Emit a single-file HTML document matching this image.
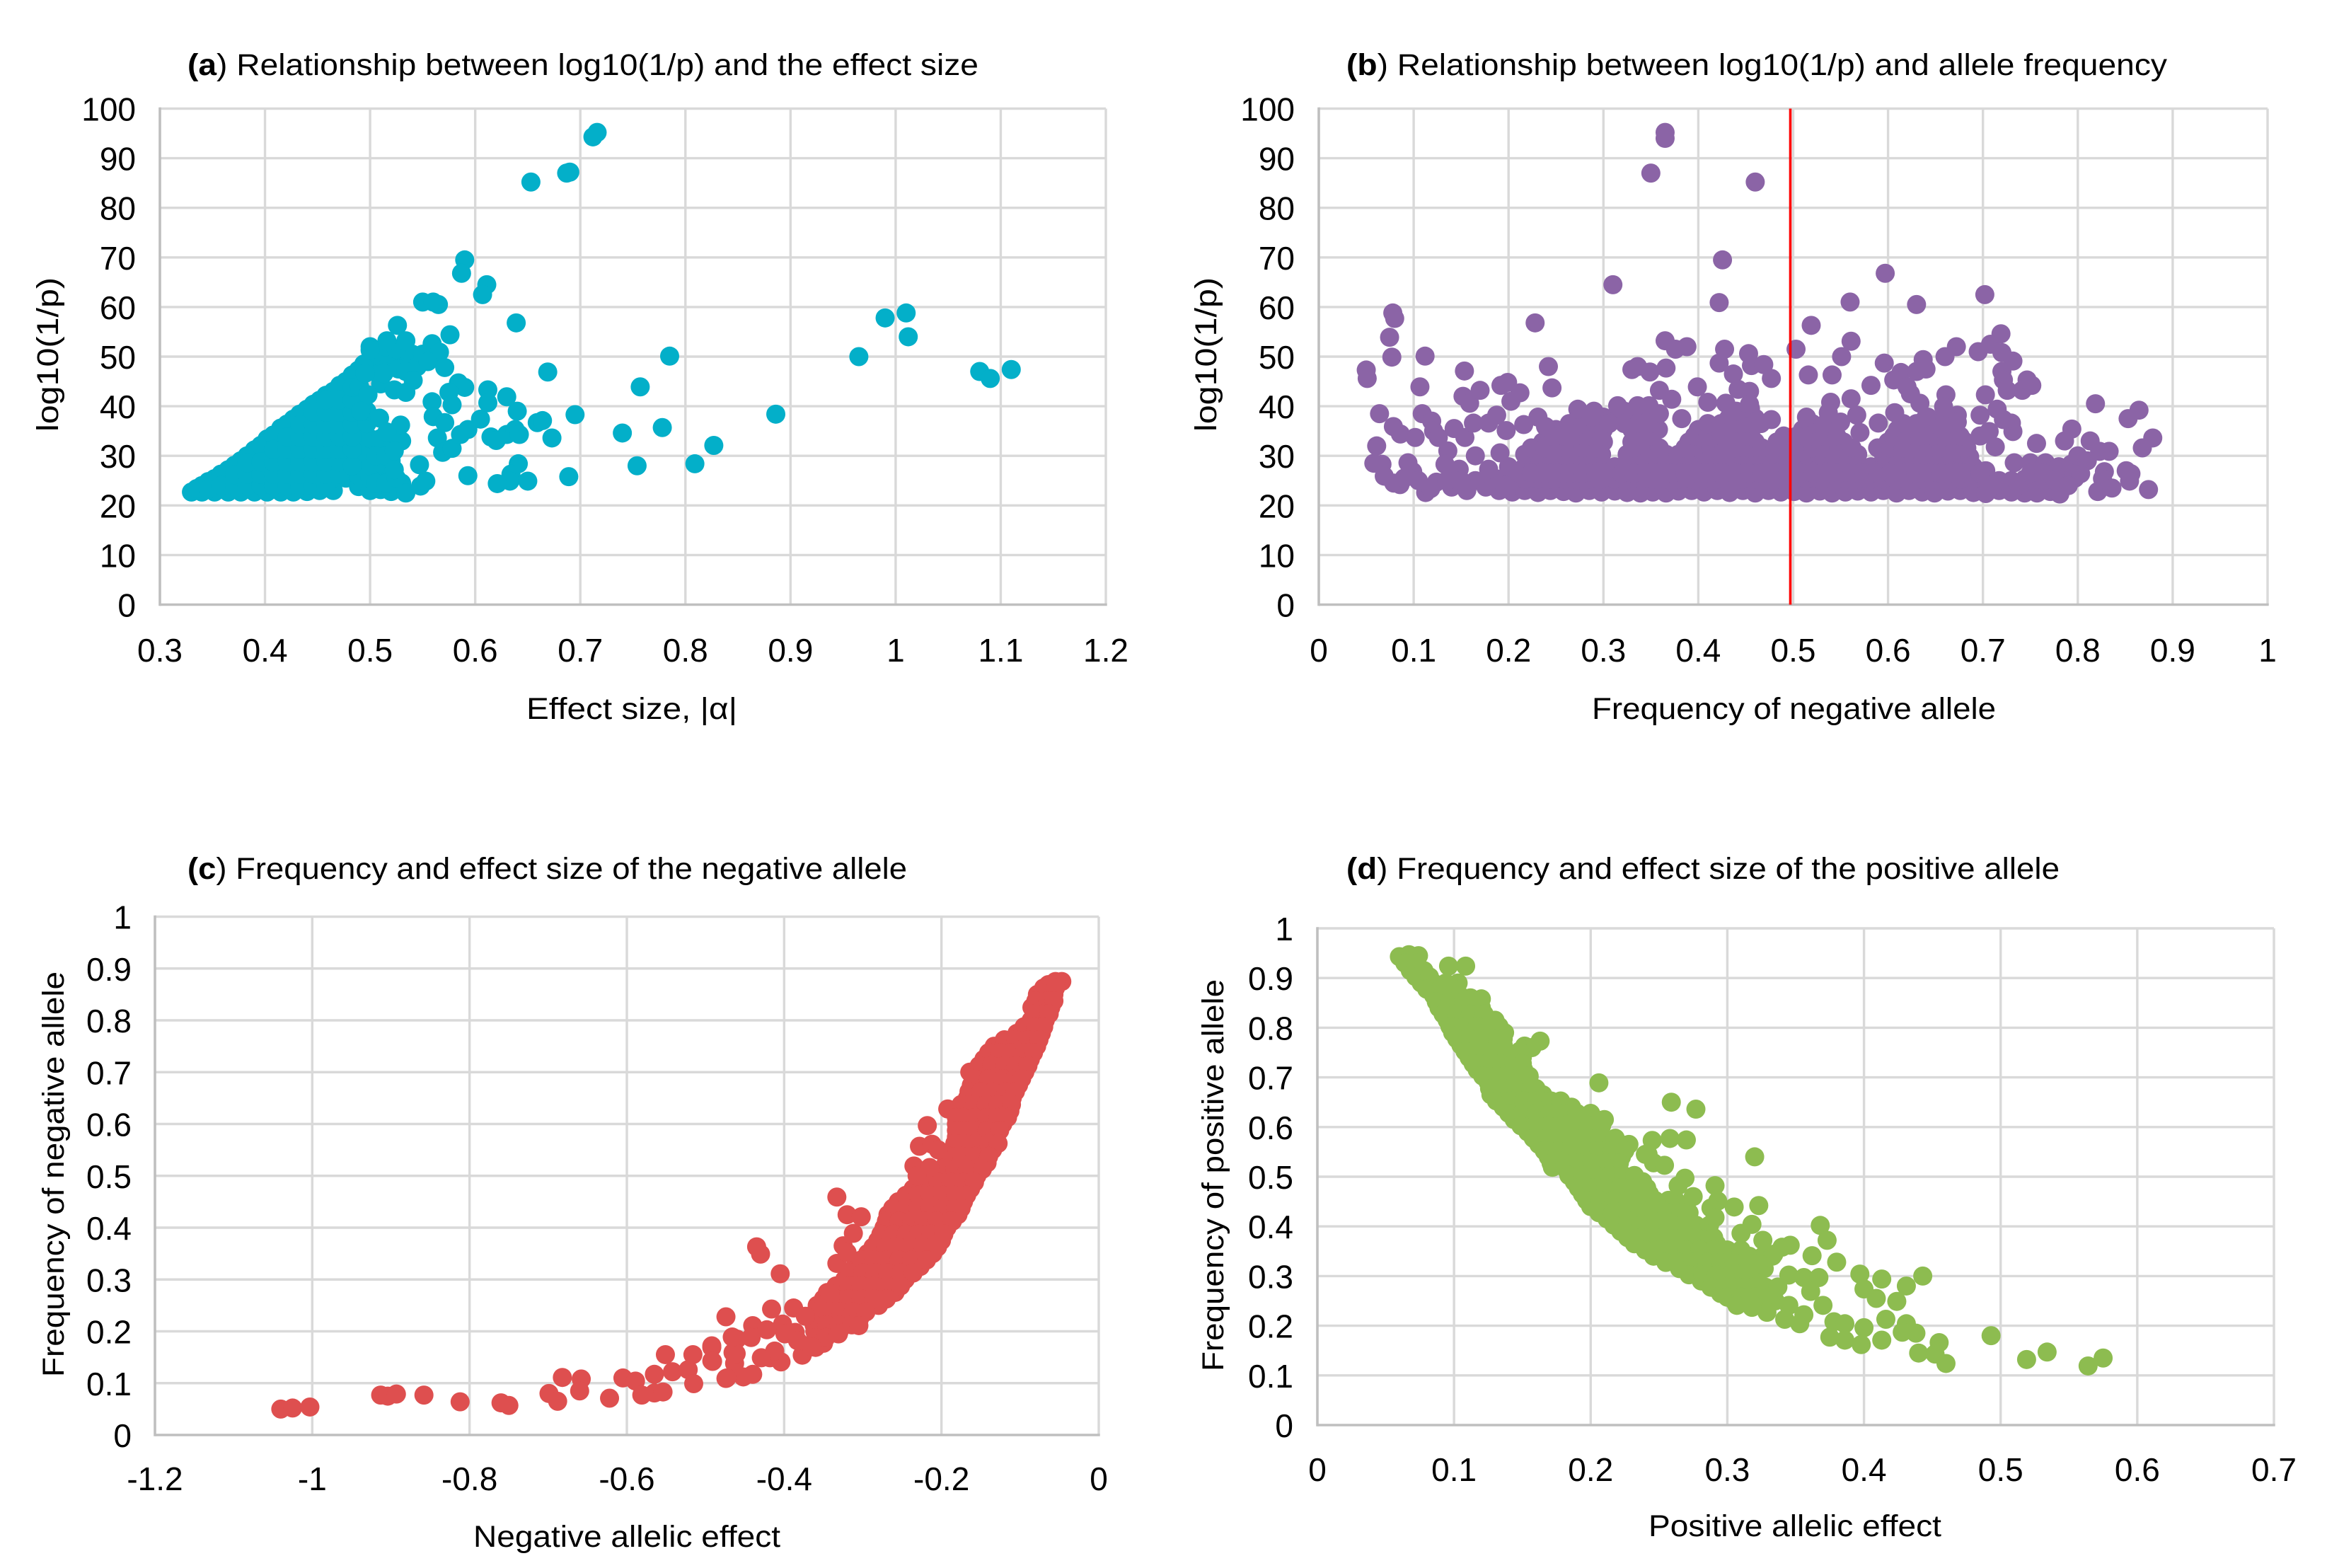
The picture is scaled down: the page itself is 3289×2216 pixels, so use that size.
<!DOCTYPE html>
<html lang="en">
<head>
<meta charset="utf-8">
<title>Allele effect size and frequency scatter charts</title>
<style>
html,body{margin:0;padding:0;background:#fff}
svg{display:block}
text{font-family:"Liberation Sans",sans-serif;fill:#000}
.tick{font-size:46px}
.title{font-size:43px}
.axis-title{font-size:43px}
</style>
</head>
<body>
<svg id="figure" xmlns="http://www.w3.org/2000/svg" width="3289" height="2216" viewBox="0 0 3289 2216">
<rect width="3289" height="2216" fill="#fff"/>
<text class="title" x="265" y="106" textLength="1118" lengthAdjust="spacingAndGlyphs"><tspan font-weight="700">(a</tspan>) Relationship between log10(1/p) and the effect size</text>
<text class="title" x="1903" y="106" textLength="1160" lengthAdjust="spacingAndGlyphs"><tspan font-weight="700">(b</tspan>) Relationship between log10(1/p) and allele frequency</text>
<text class="title" x="265" y="1242" textLength="1017" lengthAdjust="spacingAndGlyphs"><tspan font-weight="700">(c</tspan>) Frequency and effect size of the negative allele</text>
<text class="title" x="1903" y="1242" textLength="1008" lengthAdjust="spacingAndGlyphs"><tspan font-weight="700">(d</tspan>) Frequency and effect size of the positive allele</text>
<text class="axis-title" x="744" y="1016" textLength="298" lengthAdjust="spacingAndGlyphs">Effect size, |α|</text>
<text class="axis-title" x="2250" y="1016" textLength="571" lengthAdjust="spacingAndGlyphs">Frequency of negative allele</text>
<text class="axis-title" x="669" y="2186" textLength="434" lengthAdjust="spacingAndGlyphs">Negative allelic effect</text>
<text class="axis-title" x="2330" y="2171" textLength="414" lengthAdjust="spacingAndGlyphs">Positive allelic effect</text>
<text class="axis-title" transform="translate(82,610) rotate(-90)" textLength="218" lengthAdjust="spacingAndGlyphs">log10(1/p)</text>
<text class="axis-title" transform="translate(1719,610) rotate(-90)" textLength="218" lengthAdjust="spacingAndGlyphs">log10(1/p)</text>
<text class="axis-title" transform="translate(90,1946) rotate(-90)" textLength="573" lengthAdjust="spacingAndGlyphs">Frequency of negative allele</text>
<text class="axis-title" transform="translate(1729,1938) rotate(-90)" textLength="554" lengthAdjust="spacingAndGlyphs">Frequency of positive allele</text>
</svg>
<script>
const aXTicks=["0.3","0.4","0.5","0.6","0.7","0.8","0.9","1","1.1","1.2"];
const bXTicks=["0","0.1","0.2","0.3","0.4","0.5","0.6","0.7","0.8","0.9","1"];
const cXTicks=["-1.2","-1","-0.8","-0.6","-0.4","-0.2","0"];
const dXTicks=["0","0.1","0.2","0.3","0.4","0.5","0.6","0.7"];
const logPTicks=["0","10","20","30","40","50","60","70","80","90","100"];
const freqTicks=["0","0.1","0.2","0.3","0.4","0.5","0.6","0.7","0.8","0.9","1"];
const referenceFrequency=[0.497];

const panelACore=[[.33,22.7],[.34,22.7],[.34,24],[.352,22.7],[.352,25.4],[.365,22.7],[.365,25],[.365,27.2],[.377,22.7],[.377,25],[.377,27.5],[.377,29],
[.39,22.7],[.39,25],[.39,27.5],[.39,30],[.39,31.2],[.402,22.7],[.402,25],[.402,27.5],[.402,30],[.402,32.5],[.402,33.4],
[.415,22.7],[.415,25],[.415,27.5],[.415,30],[.415,32.5],[.415,35],[.415,35.6],[.427,22.7],[.427,25],[.427,27.5],[.427,30],[.427,32.5],[.427,35],[.427,37.4],
[.44,22.8],[.44,25],[.44,27.5],[.44,30],[.44,32.5],[.44,35],[.44,37.5],[.44,39.4],[.452,23],[.452,25.5],[.452,28],[.452,30.5],[.452,33],[.452,35.5],[.452,38],[.452,40],[.452,41.2],
[.465,23],[.465,25.5],[.465,28],[.465,30.5],[.465,33],[.465,35.5],[.465,38],[.465,40.5],[.465,43],[.477,25.5],[.477,28],[.477,30.5],[.477,33],[.477,35.5],[.477,38],[.477,40.5],[.477,43],[.477,45],
[.489,23.8],[.489,26],[.489,30.5],[.489,33],[.489,35.5],[.489,38],[.489,40.5],[.489,43],[.489,45.5],[.489,47.3],[.5,23],[.5,25.5],[.5,28],[.5,31],[.5,33.5],[.5,47],[.5,49.5],[.5,52],
[.51,23.2],[.51,26],[.51,28.5],[.51,31],[.51,33.5],[.51,47],[.51,50],[.52,22.8],[.52,26],[.52,29],[.52,31.5],[.52,33.5],[.52,48],[.52,50.5]];
const panelAEdge=[[.335,23.4],[.346,24.8],[.358,26.3],[.371,28.1],[.383,30],[.396,32.1],[.408,34.2],[.421,36.4],[.433,38.4],[.446,40.4],[.458,42.2],[.471,44.2],[.483,46.3],[.494,48.5],[.505,50.8],
[.346,23.2],[.358,24],[.371,24],[.371,26.2],[.383,24],[.383,26.3],[.383,28.6],[.396,24],[.396,26.3],[.396,28.8],[.408,24],[.408,26.3],[.408,28.8],[.408,31.3],[.421,24],[.421,26.3],[.421,28.8],[.421,31.3],[.421,33.8],
[.433,24],[.433,26.3],[.433,28.8],[.433,31.3],[.433,33.8],[.433,36.3],[.446,24],[.446,26.3],[.446,28.8],[.446,31.3],[.446,33.8],[.446,36.3],[.446,38.8],[.458,24],[.458,26.3],[.458,28.8],[.458,31.3],[.458,33.8],[.458,36.3],[.458,38.8],[.458,41.3],
[.471,26.3],[.471,28.8],[.471,31.3],[.471,33.8],[.471,36.3],[.471,38.8],[.471,41.3],[.483,28],[.483,31.3],[.483,33.8],[.483,36.3],[.483,38.8],[.483,41.3],[.483,43.8],
[.505,24.5],[.515,24.5],[.53,24.5],[.505,30],[.515,30],[.525,25.5],[.497,36.5],[.497,39],[.51,44.5],[.53,50],[.54,50.5],[.545,48],[.55,50.5],[.56,50],[.527,47.5],[.515,52],[.525,51.5],[.49,44],[.53,33]];
const panelATail=[[.716,95.2],[.712,94.3],[.69,87.2],[.687,87],[.653,85.2],[.59,69.5],[.587,66.8],[.611,64.5],[.607,62.5],[.55,61],[.56,61],[.565,60.5],[.639,56.8],[.526,56.3],[.576,54.4],
[.516,53.2],[.534,53.2],[.5,51.3],[.559,52.6],[.566,50.9],[.555,49],[.571,47.8],[.534,47],[.541,45.2],[.523,43.3],[.534,42.8],[.513,46.6],[.495,46.6],[.498,42.3],[.491,39],[.509,37.6],[.529,36.2],[.516,34.8],[.523,31],[.523,27.2],[.534,22.5],[.548,23.9],[.553,24.9],[.547,28.2],
[.584,44.7],[.59,43.8],[.575,42.8],[.578,40.3],[.559,40.9],[.56,37.9],[.571,36.7],[.564,33.6],[.569,30.7],[.578,31.5],[.605,37.4],[.593,35.3],[.586,34.3],[.612,43.3],[.612,40.7],[.63,41.9],[.64,39],[.659,36.7],[.664,37.1],[.673,33.6],[.615,33.8],[.62,33.1],[.63,34.3],[.638,35.3],[.642,34.3],[.641,28.4],[.634,26.3],[.633,24.9],[.621,24.4],[.65,24.9],[.593,26],[.689,25.8],[.669,46.9],[.695,38.3],[.74,34.6],[.778,35.7],[.827,32.1],[.809,28.4],[.754,28],[.757,43.9],[.785,50.1],[.886,38.4],[.965,50],[.99,57.8],[1.01,58.8],[1.012,54],[1.08,47],[1.09,45.6],[1.11,47.4]];

const panelBRowLow=[[.19,23],[.204,22.7],[.217,23],[.231,22.6],[.244,23],[.258,22.8],[.271,22.5],[.285,23],[.298,22.7],[.312,22.9],[.325,22.6],[.339,22.5],[.352,22.7],[.366,22.5],[.379,22.9],[.393,23],[.406,22.7],[.42,23],[.433,22.6],[.447,23],[.46,22.5],[.474,23],[.487,22.7],[.501,22.8],[.514,22.5],[.528,22.9],[.541,22.5],[.555,22.7],[.568,22.9],[.582,22.7],[.595,23],[.609,22.5],[.622,23],[.636,22.7],[.649,22.5],[.663,22.9],[.676,23],[.69,22.6],[.703,22.4],[.717,23],[.73,22.7],[.744,22.5],[.757,22.5],[.771,22.8],[.781,22.3]];
const panelBRow25=[[.19,25.3],[.204,25.3],[.217,25.3],[.231,25.3],[.244,25.3],[.258,25.3],[.271,25.3],[.285,25.3],[.298,25.3],[.312,25.3],[.325,25.3],[.339,25.3],[.352,25.3],[.366,25.3],[.379,25.3],[.393,25.3],[.406,25.3],[.42,25.3],[.433,25.3],[.447,25.3],[.46,25.3],[.474,25.3],[.487,25.3],[.501,25.3],[.514,25.3],[.528,25.3],[.541,25.3],[.555,25.3],[.568,25.3],[.582,25.3],[.595,25.3],[.609,25.3],[.622,25.3],[.636,25.3],[.649,25.3],[.663,25.3],[.676,25.3],[.69,25.3],[.703,25.3],[.717,25],[.73,25],[.744,25.3],[.757,25.3],[.771,25.3],[.784,25.3],[.797,25.5],[.803,26.4]];
const panelBRow28=[[.2,27.8],[.217,27.8],[.231,27.8],[.244,27.8],[.258,27.8],[.271,27.8],[.285,27.8],[.298,27.8],[.312,27.8],[.325,27.8],[.339,27.8],[.352,27.8],[.366,27.8],[.379,27.8],[.393,27.8],[.406,27.8],[.42,27.8],[.433,27.8],[.447,27.8],[.46,27.8],[.474,27.8],[.487,27.8],[.501,27.8],[.514,27.8],[.528,27.8],[.541,27.8],[.555,27.8],[.568,27.8],[.582,27.8],[.595,27.8],[.609,27.8],[.622,27.8],[.636,27.8],[.649,27.8],[.663,27.8],[.676,27.8],[.69,27.8],[.703,27],[.733,28.6],[.75,28.6],[.766,28.6],[.78,27.8],[.793,28.3]];
const panelBRow30=[[.217,30.3],[.231,30.3],[.244,30.3],[.258,30.3],[.271,30.3],[.285,30.3],[.298,30.3],[.325,30.3],[.339,30.3],[.352,30.3],[.366,30.3],[.379,30.3],[.393,30.3],[.406,30.3],[.42,30.3],[.433,30.3],[.447,30.3],[.46,30.3],[.474,30.3],[.487,30.3],[.501,30.3],[.514,30.3],[.528,30.3],[.541,30.3],[.555,30.3],[.568,30.3],[.595,30.3],[.609,30.3],[.622,30.3],[.636,30.3],[.649,30.3],[.663,30.3],[.676,30.3],[.686,29.8]];
const panelBRow33=[[.236,32.8],[.25,32.8],[.264,32.8],[.278,32.8],[.292,32.8],[.3,32.8],[.33,32.8],[.344,32.8],[.39,32.8],[.404,32.8],[.418,32.8],[.432,32.8],[.446,32.8],[.46,32.8],[.483,32.8],[.497,32.8],[.511,32.8],[.525,32.8],[.539,32.8],[.553,32.8],[.6,32.8],[.614,32.8],[.628,32.8],[.642,32.8],[.656,32.8],[.67,32.8],[.68,33]];
const panelBRow35=[[.25,35.3],[.264,35.3],[.278,35.3],[.292,35.3],[.3,35.3],[.33,35.3],[.344,35.3],[.358,35.3],[.4,35.3],[.414,35.3],[.428,35.3],[.442,35.3],[.456,35.3],[.51,35.3],[.524,35.3],[.538,35.3],[.61,35.3],[.624,35.3],[.638,35.3],[.652,35.3],[.666,35.3]];
const panelBRow38=[[.285,37.6],[.3,37.8],[.316,37.8],[.33,37.6],[.344,37.8],[.432,37.6],[.446,37.8],[.46,37.6],[.642,37.8],[.656,37.4]];
const panelBFill=[[.197,24],[.211,26.5],[.224,26.5],[.238,26.5],[.251,26.5],[.265,26.5],[.278,26.5],[.292,26.5],[.305,26.5],[.319,26.5],[.332,26.5],[.346,26.5],[.359,26.5],[.373,26.5],[.386,26.5],[.4,26.5],[.413,26.5],[.427,26.5],[.44,26.5],[.454,26.5],[.467,26.5],[.481,26.5],[.494,26.5],[.508,26.5],[.521,26.5],[.535,26.5],[.548,26.5],[.562,26.5],[.575,26.5],[.589,26.5],[.602,26.5],[.616,26.5],[.629,26.5],[.643,26.5],[.656,26.5],[.67,26.5],[.683,26.5],[.697,26.5],[.71,24],[.737,24],[.75,26.5],[.764,26.5],[.777,25],[.79,24],
[.224,31.6],[.238,31.6],[.251,31.6],[.265,31.6],[.278,31.6],[.292,31.6],[.332,31.6],[.346,31.6],[.359,31.6],[.386,31.6],[.4,31.6],[.413,31.6],[.427,31.6],[.44,31.6],[.454,31.6],[.467,31.6],[.481,31.6],[.494,31.6],[.508,31.6],[.521,31.6],[.535,31.6],[.548,31.6],[.562,31.6],[.589,31.6],[.602,31.6],[.616,31.6],[.629,31.6],[.643,31.6],[.656,31.6],[.67,31.6],[.683,31.6],
[.244,34],[.258,34],[.271,34],[.285,34],[.298,34],[.336,34],[.35,34],[.396,34],[.41,34],[.424,34],[.438,34],[.452,34],[.49,34],[.504,34],[.518,34],[.532,34],[.546,34],[.606,34],[.62,34],[.634,34],[.648,34],[.662,34],[.676,34],
[.264,36.5],[.278,36.5],[.292,36.5],[.306,36.5],[.322,36.5],[.336,36.5],[.35,36.5],[.41,36.5],[.424,36.5],[.438,36.5],[.452,36.5],[.466,36.5],[.52,36.5],[.534,36.5],[.616,36.5],[.63,36.5],[.648,36.5],[.664,36.5],[.29,39],[.322,39],[.34,39],[.44,39],[.455,39.5]];
const panelBTail=[[.365,95.2],[.365,94],[.35,87],[.46,85.2],[.4255,69.5],[.597,66.8],[.31,64.5],[.422,60.9],[.56,61],[.63,60.5],[.702,62.5],[.078,58.8],[.08,57.7],[.228,56.8],[.519,56.3],[.0746,53.9],[.077,49.9],[.05,47.3],[.051,45.6],[.112,50.1],[.1066,43.9],[.1535,47.1],[.152,42],[.159,40.6],[.17,43.2],[.192,44.2],[.199,44.8],[.212,42.7],[.2025,41],[.242,48],[.2458,43.7],
[.064,38.5],[.061,32],[.058,28.5],[.0666,28.3],[.094,28.6],[.0786,35.9],[.086,34.4],[.1016,33.7],[.109,38.5],[.119,37],[.121,35],[.126,33.7],[.1426,35.5],[.154,33.7],[.163,36.6],[.179,36.6],[.1875,38.2],[.136,31],[.133,28.3],[.165,30],[.191,30.6],[.1975,35.1],[.216,36.3],[.231,37.8],[.239,35.9],
[.273,39.4],[.2875,37.8],[.315,40.1],[.336,40.1],[.348,40.1],[.359,38.5],[.3825,37.5],[.336,48],[.33,47.4],[.349,46.9],[.366,47.7],[.365,53.2],[.376,51.5],[.388,52],[.359,43.2],[.372,41.4],[.399,43.9],[.41,40.8],[.4277,51.5],[.422,48.7],[.437,46.5],[.453,50.6],[.456,48.2],[.469,48.4],[.477,45.6],[.442,43.4],[.454,43],[.454,40.4],[.429,40.6],[.477,37.3],[.503,51.5],
[.1126,22.6],[.118,23.4],[.14,23.7],[.156,23],[.176,23.7],[.079,24.5],[.0856,24.2],[.069,25.9],[.099,26.8],[.124,24.7],[.148,27.3],[.179,27.3],[.165,25],[.09,25.5],[.105,25],[.135,25],[.15,25],
[.561,53.1],[.551,50],[.516,46.3],[.541,46.3],[.582,44.2],[.596,48.7],[.6136,46.8],[.606,45.3],[.637,49.4],[.64,47.5],[.63,47],[.66,50],[.672,52],[.695,51],[.708,52.5],[.719,54.6],[.72,50.8],[.7316,49.1],[.72,47],[.7216,45.3],[.7256,43.2],[.7415,43.2],[.7465,45.3],[.7515,44.2],[.661,42.3],[.6585,39.9],[.7026,42.3],[.697,38.2],[.715,39.4],[.673,38.2],[.673,36.8],[.73,36.6],[.7316,34.9],[.7216,37.3],
[.607,38.7],[.5897,36.6],[.5704,34.7],[.5395,40.8],[.537,38.7],[.561,41.5],[.567,38.2],[.514,37.8],[.55,36.8],[.6236,42.5],[.6336,40.6],[.64,37.8],[.62,43.9],[.697,34],[.7066,34.9],[.713,31.8],[.7565,32.5],[.7937,35.4],[.786,33],[.813,33],[.833,30.9],[.823,30.9],[.8186,40.5],[.853,37.5],[.8645,39.2],[.879,33.6],[.868,31.6],[.828,26.8],[.826,25.4],[.821,22.8],[.836,23.5],[.851,27],[.856,26.4],[.8545,24.9],[.8745,23.2],[.8,30],[.81,29]];

const panelCBand=[[-.047,.875],[-.055,.875],[-.064,.869],[-.078,.85],[-.057,.85],[-.085,.825],[-.07,.825],[-.061,.825],[-.086,.8],[-.075,.8],[-.068,.8],[-.104,.775],[-.09,.775],[-.073,.775],[-.133,.75],[-.115,.75],[-.1,.75],[-.079,.75],
[-.146,.725],[-.13,.725],[-.115,.725],[-.1,.725],[-.087,.725],[-.164,.7],[-.159,.7],[-.143,.7],[-.127,.7],[-.111,.7],[-.094,.7],[-.162,.675],[-.146,.675],[-.13,.675],[-.115,.675],[-.102,.675],[-.167,.65],[-.152,.65],[-.137,.65],[-.122,.65],[-.11,.65],
[-.192,.629],[-.181,.625],[-.165,.625],[-.15,.625],[-.135,.625],[-.113,.625],[-.181,.6],[-.165,.6],[-.15,.6],[-.135,.6],[-.122,.6],[-.181,.575],[-.165,.575],[-.15,.575],[-.131,.575],[-.186,.55],[-.17,.55],[-.155,.55],[-.135,.55],[-.194,.525],[-.178,.525],[-.162,.525],[-.142,.525],
[-.204,.5],[-.188,.5],[-.172,.5],[-.155,.5],[-.236,.475],[-.22,.475],[-.204,.475],[-.188,.475],[-.172,.475],[-.163,.475],[-.255,.45],[-.24,.45],[-.224,.45],[-.208,.45],[-.192,.45],[-.172,.45],[-.268,.425],[-.252,.425],[-.236,.425],[-.22,.425],[-.204,.425],[-.188,.425],[-.179,.425],
[-.273,.4],[-.257,.4],[-.241,.4],[-.225,.4],[-.209,.4],[-.193,.4],[-.281,.375],[-.265,.375],[-.249,.375],[-.233,.375],[-.217,.375],[-.2,.375],[-.294,.35],[-.278,.35],[-.262,.35],[-.246,.35],[-.23,.35],[-.211,.35],[-.31,.325],[-.294,.325],[-.278,.325],[-.262,.325],[-.246,.325],[-.227,.325],
[-.323,.3],[-.307,.3],[-.291,.3],[-.275,.3],[-.259,.3],[-.246,.3],[-.345,.275],[-.329,.275],[-.313,.275],[-.297,.275],[-.281,.275],[-.259,.275],[-.358,.25],[-.342,.25],[-.326,.25],[-.31,.25],[-.294,.25],[-.28,.25],[-.363,.225],[-.347,.225],[-.331,.225],[-.315,.225],[-.304,.225],[-.361,.2],[-.345,.2],[-.33,.2],[-.377,.154],[-.36,.169],[-.35,.177]];
const panelCFill=[[-.07,.8625],[-.055,.8625],[-.08,.8375],[-.065,.8375],[-.057,.8375],[-.082,.8125],[-.07,.8125],[-.063,.8125],[-.095,.7875],[-.08,.7875],[-.07,.7875],[-.12,.7625],[-.105,.7625],[-.09,.7625],[-.076,.7625],[-.14,.7375],[-.125,.7375],[-.11,.7375],[-.095,.7375],[-.083,.7375],
[-.152,.7125],[-.136,.7125],[-.12,.7125],[-.105,.7125],[-.09,.7125],[-.158,.6875],[-.14,.6875],[-.122,.6875],[-.107,.6875],[-.098,.6875],[-.165,.6625],[-.15,.6625],[-.135,.6625],[-.118,.6625],[-.106,.6625],[-.175,.6375],[-.158,.6375],[-.143,.6375],[-.128,.6375],[-.111,.6375],
[-.181,.6125],[-.172,.6125],[-.157,.6125],[-.142,.6125],[-.128,.6125],[-.116,.6125],[-.181,.5875],[-.172,.5875],[-.157,.5875],[-.142,.5875],[-.126,.5875],[-.183,.5625],[-.172,.5625],[-.157,.5625],[-.14,.5625],[-.128,.5625],[-.19,.5375],[-.174,.5375],[-.158,.5375],[-.14,.5375],[-.199,.5125],[-.183,.5125],[-.167,.5125],[-.148,.5125],
[-.22,.4875],[-.204,.4875],[-.188,.4875],[-.172,.4875],[-.158,.4875],[-.245,.4625],[-.23,.4625],[-.214,.4625],[-.198,.4625],[-.182,.4625],[-.168,.4625],[-.262,.4375],[-.246,.4375],[-.23,.4375],[-.214,.4375],[-.198,.4375],[-.182,.4375],[-.175,.4375],[-.27,.4125],[-.254,.4125],[-.238,.4125],[-.222,.4125],[-.206,.4125],[-.19,.4125],[-.186,.4125],
[-.277,.3875],[-.261,.3875],[-.245,.3875],[-.229,.3875],[-.213,.3875],[-.197,.3875],[-.287,.3625],[-.271,.3625],[-.255,.3625],[-.239,.3625],[-.223,.3625],[-.205,.3625],[-.302,.3375],[-.286,.3375],[-.27,.3375],[-.254,.3375],[-.238,.3375],[-.219,.3375],[-.316,.3125],[-.3,.3125],[-.284,.3125],[-.268,.3125],[-.252,.3125],[-.236,.3125],
[-.334,.2875],[-.318,.2875],[-.302,.2875],[-.286,.2875],[-.27,.2875],[-.252,.2875],[-.35,.2625],[-.334,.2625],[-.318,.2625],[-.302,.2625],[-.286,.2625],[-.27,.2625],[-.36,.2375],[-.344,.2375],[-.328,.2375],[-.312,.2375],[-.296,.2375],[-.362,.2125],[-.346,.2125],[-.33,.2125],[-.314,.2125],[-.305,.211],[-.36,.1875],[-.347,.188],[-.331,.195],[-.365,.17]];
const panelCTail=[[-.218,.597],[-.228,.557],[-.212,.561],[-.204,.55],[-.235,.519],[-.215,.516],[-.231,.5],[-.333,.459],[-.32,.425],[-.302,.421],[-.312,.389],[-.325,.365],[-.333,.331],[-.32,.352],[-.435,.363],[-.43,.349],[-.405,.311],[-.342,.273],[-.388,.245],[-.416,.243],[-.373,.229],[-.474,.228],
[-.44,.211],[-.402,.214],[-.422,.203],[-.386,.198],[-.46,.185],[-.442,.188],[-.399,.195],[-.383,.182],[-.492,.169],[-.492,.143],[-.465,.159],[-.463,.138],[-.474,.109],[-.452,.112],[-.44,.117],[-.418,.149],[-.404,.141],[-.412,.162],[-.429,.149],
[-1.04,.05],[-1.025,.052],[-1.003,.054],[-.913,.077],[-.904,.075],[-.893,.079],[-.858,.077],[-.812,.064],[-.76,.062],[-.75,.057],[-.699,.08],[-.688,.065],[-.682,.111],[-.658,.108],[-.66,.085],[-.622,.071],[-.605,.11],[-.589,.104],[-.581,.077],[-.565,.081],[-.554,.083],[-.565,.117],[-.551,.155],[-.542,.122],[-.522,.126],[-.516,.155],[-.515,.099],[-.492,.172],[-.491,.142],[-.473,.11],[-.461,.157],[-.466,.189]];

const panelDBand=[[.06,.943],[.067,.947],[.074,.945],[.068,.915],[.078,.915],[.076,.89],[.085,.89],[.094,.89],[.103,.89],[.085,.865],[.095,.865],[.104,.865],[.112,.86],[.12,.858],[.089,.84],[.099,.84],[.109,.84],[.12,.84],[.095,.815],[.105,.815],[.115,.815],[.125,.815],[.13,.815],[.099,.79],[.109,.79],[.119,.79],[.129,.79],[.137,.79],[.105,.765],[.115,.765],[.125,.765],[.136,.765],[.1516,.763],[.157,.76],
[.111,.74],[.121,.74],[.131,.74],[.141,.74],[.15,.74],[.117,.715],[.127,.715],[.137,.715],[.147,.715],[.151,.715],[.125,.69],[.135,.69],[.145,.69],[.155,.69],[.127,.665],[.137,.665],[.147,.665],[.157,.665],[.165,.665],[.136,.64],[.146,.64],[.156,.64],[.166,.64],[.176,.64],[.186,.64],
[.144,.615],[.154,.615],[.164,.615],[.174,.615],[.184,.615],[.194,.615],[.204,.615],[.21,.615],[.154,.59],[.164,.59],[.174,.59],[.184,.59],[.194,.59],[.204,.59],[.162,.565],[.172,.565],[.182,.565],[.192,.565],[.202,.565],[.212,.565],[.222,.565],[.228,.565],[.169,.54],[.179,.54],[.189,.54],[.199,.54],[.209,.54],[.219,.54],[.2225,.54],
[.172,.519],[.182,.515],[.192,.515],[.202,.515],[.212,.515],[.22,.515],[.188,.49],[.198,.49],[.208,.49],[.218,.49],[.228,.49],[.238,.49],[.194,.465],[.204,.465],[.214,.465],[.224,.465],[.234,.465],[.243,.465],[.2,.44],[.21,.44],[.22,.44],[.23,.44],[.24,.44],[.25,.44],[.26,.44],[.27,.44],
[.212,.415],[.222,.415],[.232,.415],[.242,.415],[.252,.415],[.262,.415],[.272,.415],[.222,.39],[.232,.39],[.242,.39],[.252,.39],[.262,.39],[.272,.39],[.285,.39],[.232,.365],[.242,.365],[.252,.365],[.262,.365],[.272,.365],[.282,.365],[.292,.365],
[.246,.34],[.256,.34],[.266,.34],[.276,.34],[.286,.34],[.296,.34],[.306,.34],[.316,.34],[.326,.34],[.333,.34],[.265,.315],[.275,.315],[.285,.315],[.295,.315],[.305,.315],[.315,.315],[.327,.315],[.281,.29],[.291,.29],[.301,.29],[.311,.29],[.295,.265],[.305,.265],[.315,.265],[.325,.265],[.305,.25],[.315,.25],[.325,.25],[.335,.25]];
const panelDFill=[[.064,.93],[.072,.93],[.072,.9025],[.082,.9025],[.08,.8775],[.09,.8775],[.1,.8775],[.087,.8525],[.097,.8525],[.107,.8525],[.115,.8525],[.092,.8275],[.102,.8275],[.112,.8275],[.122,.8275],[.097,.8025],[.107,.8025],[.117,.8025],[.127,.8025],[.133,.8025],[.102,.7775],[.112,.7775],[.122,.7775],[.132,.7775],[.136,.7775],
[.108,.7525],[.118,.7525],[.128,.7525],[.138,.7525],[.148,.7525],[.114,.7275],[.124,.7275],[.134,.7275],[.144,.7275],[.15,.7275],[.121,.7025],[.131,.7025],[.141,.7025],[.151,.7025],[.155,.7025],[.126,.6775],[.136,.6775],[.146,.6775],[.156,.6775],[.16,.6775],[.131,.6525],[.141,.6525],[.151,.6525],[.161,.6525],[.171,.6525],[.178,.6525],
[.14,.6275],[.15,.6275],[.16,.6275],[.17,.6275],[.18,.6275],[.19,.6275],[.2,.6275],[.149,.6025],[.159,.6025],[.169,.6025],[.179,.6025],[.189,.6025],[.199,.6025],[.208,.6025],[.158,.5775],[.168,.5775],[.178,.5775],[.188,.5775],[.198,.5775],[.207,.5775],[.218,.5775],[.166,.5525],[.176,.5525],[.186,.5525],[.196,.5525],[.206,.5525],[.216,.5525],[.225,.5525],
[.171,.5275],[.181,.5275],[.191,.5275],[.201,.5275],[.211,.5275],[.221,.5275],[.184,.5025],[.194,.5025],[.204,.5025],[.214,.5025],[.224,.5025],[.232,.5025],[.191,.4775],[.201,.4775],[.211,.4775],[.221,.4775],[.231,.4775],[.241,.4775],[.197,.4525],[.207,.4525],[.217,.4525],[.227,.4525],[.237,.4525],[.247,.4525],[.257,.4525],[.262,.4525],
[.206,.4275],[.216,.4275],[.226,.4275],[.236,.4275],[.246,.4275],[.256,.4275],[.266,.4275],[.272,.4275],[.217,.4025],[.227,.4025],[.237,.4025],[.247,.4025],[.257,.4025],[.267,.4025],[.277,.4025],[.287,.4025],[.227,.3775],[.237,.3775],[.247,.3775],[.257,.3775],[.267,.3775],[.277,.3775],[.287,.3775],[.29,.3775],
[.24,.3525],[.25,.3525],[.26,.3525],[.27,.3525],[.28,.3525],[.29,.3525],[.3,.3525],[.31,.3525],[.255,.3275],[.265,.3275],[.275,.3275],[.285,.3275],[.295,.3275],[.305,.3275],[.315,.3275],[.325,.3275],[.272,.3025],[.282,.3025],[.292,.3025],[.302,.3025],[.312,.3025],[.32,.3025],[.288,.2775],[.298,.2775],[.308,.2775],[.318,.2775],[.328,.2775],[.3,.2575],[.31,.2575],[.32,.2575],[.33,.2575]];
const panelDTail=[[.096,.924],[.1085,.924],[.163,.773],[.206,.689],[.24,.545],[.246,.528],[.254,.523],[.259,.65],[.277,.636],[.258,.577],[.27,.574],[.245,.573],[.242,.545],[.32,.54],[.291,.482],[.269,.497],[.264,.482],[.275,.46],[.293,.451],[.288,.437],[.305,.439],[.323,.442],[.291,.418],
[.368,.402],[.373,.372],[.362,.341],[.38,.328],[.346,.362],[.34,.358],[.318,.404],[.31,.386],[.326,.372],[.334,.344],[.323,.325],[.397,.304],[.413,.294],[.4,.274],[.409,.255],[.431,.28],[.424,.249],[.443,.3],[.345,.302],[.356,.297],[.367,.297],[.361,.269],[.37,.241],[.345,.241],[.337,.278],
[.356,.222],[.353,.204],[.342,.213],[.329,.227],[.318,.237],[.307,.241],[.378,.208],[.375,.177],[.386,.204],[.386,.171],[.4,.196],[.398,.162],[.413,.171],[.416,.213],[.431,.204],[.428,.187],[.438,.185],[.455,.166],[.44,.145],[.452,.143],[.46,.124],[.493,.18],[.519,.132],[.534,.147],[.564,.119],[.575,.135]];

const svg=document.getElementById('figure');
const SVG_NS='http://www.w3.org/2000/svg';
const GRID='#d9d9d9',AXIS='#bfbfbf';
const MARKER_RADIUS=13.5;

function linearScale(d0,d1,r0,r1){return v=>r0+(v-d0)/(d1-d0)*(r1-r0);}

function addLine(x1,y1,x2,y2,color,width,name){
  const l=document.createElementNS(SVG_NS,'line');
  l.setAttribute('x1',x1);l.setAttribute('y1',y1);l.setAttribute('x2',x2);l.setAttribute('y2',y2);
  l.setAttribute('stroke',color);l.setAttribute('stroke-width',width);
  
  
  svg.appendChild(l);
}
function addTick(x,y,label,anchor,name){
  const t=document.createElementNS(SVG_NS,'text');
  t.setAttribute('class','tick');t.setAttribute('x',x);t.setAttribute('y',y);t.setAttribute('text-anchor',anchor);
  t.textContent=label;
  
  
  svg.appendChild(t);
}
function drawPanel(id,left,right,top,bottom,xTicks,yTicks,xLabelBase,yLabelEnd,color,seriesList,overlay){
  const xNums=xTicks.map(Number),yNums=yTicks.map(Number);
  const sx=linearScale(xNums[0],xNums[xNums.length-1],left,right);
  const sy=linearScale(yNums[0],yNums[yNums.length-1],bottom,top);
  yNums.forEach((v,i)=>{if(i>0)addLine(left,sy(v),right,sy(v),GRID,3.4,id+'-horizontal-gridline');});
  xNums.forEach((v,i)=>{if(i>0)addLine(sx(v),top,sx(v),bottom,GRID,3.4,id+'-vertical-gridline');});
  addLine(left,top-1.7,left,bottom+1.7,AXIS,3.6,id+'-y-axis-line');
  addLine(left,bottom,right+1.7,bottom,AXIS,3.6,id+'-x-axis-line');
  xTicks.forEach((lab,i)=>addTick(sx(xNums[i]),xLabelBase,lab,'middle',id+'-x-tick-label'));
  yTicks.forEach((lab,i)=>addTick(yLabelEnd,sy(yNums[i])+17,lab,'end',id+'-y-tick-label'));
  seriesList.forEach(series=>series.forEach(p=>{
    const c=document.createElementNS(SVG_NS,'circle');
    c.setAttribute('cx',sx(p[0]));c.setAttribute('cy',sy(p[1]));c.setAttribute('r',MARKER_RADIUS);c.setAttribute('fill',color);
    
    
    svg.appendChild(c);
  }));
  if(overlay)overlay.forEach(v=>addLine(sx(v),top,sx(v),bottom,'#ff0000',3.6,id+'-reference-line'));
}
drawPanel('panel-a',226,1563,153.5,854.5,aXTicks,logPTicks,935,192,'#03afc9',[panelACore,panelAEdge,panelATail]);
drawPanel('panel-b',1864,3205,153.5,854.5,bXTicks,logPTicks,935,1830,'#8b64a6',[panelBRowLow,panelBRow25,panelBRow28,panelBRow30,panelBRow33,panelBRow35,panelBRow38,panelBFill,panelBTail],referenceFrequency);
drawPanel('panel-c',219,1553,1295.5,2028,cXTicks,freqTicks,2106,186,'#de4f4f',[panelCBand,panelCFill,panelCTail]);
drawPanel('panel-d',1862,3214,1312,2014,dXTicks,freqTicks,2093,1828,'#8dbc50',[panelDBand,panelDFill,panelDTail]);
</script>
</body>
</html>
